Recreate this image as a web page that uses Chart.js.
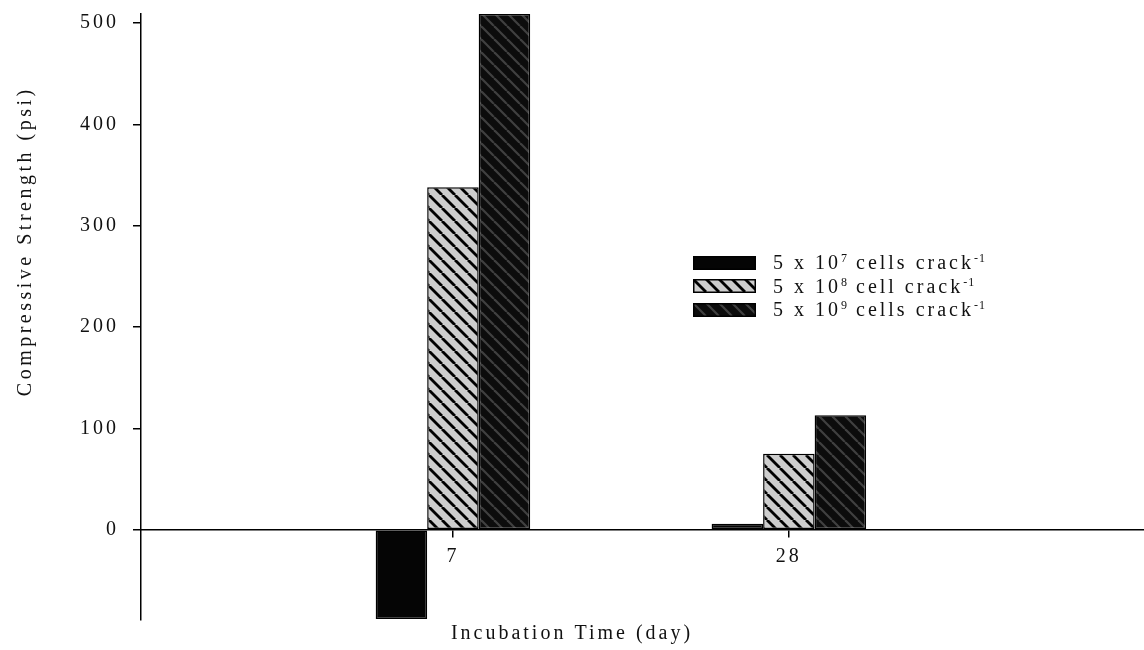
<!DOCTYPE html>
<html>
<head>
<meta charset="utf-8">
<script src="https://cdn.jsdelivr.net/npm/chart.js@4"></script>
<style>
  html, body { margin: 0; padding: 0; background: #fff; }
  #wrap { position: relative; width: 1144px; height: 650px; }
  #legend {
    position: absolute; left: 693px; top: 251px;
    font-family: "Liberation Serif", serif; font-size: 20px;
    letter-spacing: 3px; color: #111;
  }
  .row { display: flex; align-items: center; height: 23.5px; white-space: nowrap; }
  .row canvas { width: 63px; height: 14px; margin-right: 17px; }
  sup { font-size: 12px; vertical-align: 7px; letter-spacing: 1px; }
</style>
</head>
<body>
<div id="wrap">
  <canvas id="chart" width="1144" height="650"></canvas>
  <div id="legend"></div>
</div>
<script>
const days = [7, 28];
const seriesNames = [
  '5 x 10^7 cells crack^-1',
  '5 x 10^8 cell crack^-1',
  '5 x 10^9 cells crack^-1',
];
const low = [-88, 6];
const mid = [338, 75];
const high = [509, 113];
const yTicks = [0, 100, 200, 300, 400, 500];
const xTitle = 'Incubation Time (day)';
const yTitle = 'Compressive Strength (psi)';

const FONT = '"Liberation Serif", "Times New Roman", serif';
const INK = '#111';

// fills: solid black, light hatch, dark hatch
function makeFill(kind) {
  const s = 13;
  const c = document.createElement('canvas');
  c.width = c.height = s;
  const g = c.getContext('2d');
  if (kind === 'solid') {
    g.fillStyle = '#050505';
    g.fillRect(0, 0, s, s);
  } else {
    g.fillStyle = kind === 'hatch' ? '#cdcdcd' : '#0c0c0c';
    g.fillRect(0, 0, s, s);
    g.strokeStyle = kind === 'hatch' ? '#000' : '#404040';
    g.lineWidth = kind === 'hatch' ? 2.8 : 2.2;
    for (const k of [-s, 0, s]) {
      g.beginPath();
      g.moveTo(k, 0);
      g.lineTo(k + s, s);
      g.stroke();
    }
  }
  return g.createPattern(c, 'repeat');
}
const fills = [makeFill('solid'), makeFill('hatch'), makeFill('dark')];

const series = [low, mid, high];
const datasets = series.map((vals, i) => ({
  label: seriesNames[i],
  data: vals.map((v, j) => ({ x: days[j], y: v })),
  backgroundColor: fills[i],
  borderColor: '#000',
  borderWidth: 1.5,
  borderSkipped: false,
}));

// html legend
const legend = document.getElementById('legend');
seriesNames.forEach((name, i) => {
  const row = document.createElement('div');
  row.className = 'row';
  const sw = document.createElement('canvas');
  sw.width = 63; sw.height = 14;
  const g = sw.getContext('2d');
  g.fillStyle = fills[i];
  g.fillRect(0, 0, 63, 14);
  g.strokeStyle = '#000';
  g.lineWidth = 1.5;
  g.strokeRect(0.75, 0.75, 61.5, 12.5);
  const txt = document.createElement('span');
  txt.innerHTML = name.replace(/\^(-?\d+)/g, '<sup>$1</sup>');
  row.appendChild(sw);
  row.appendChild(txt);
  legend.appendChild(row);
});

const spacing = {
  id: 'spacing',
  beforeLayout(chart) { chart.ctx.letterSpacing = '3px'; },
  beforeDraw(chart) { chart.ctx.letterSpacing = '3px'; },
};

const yTitlePlugin = {
  id: 'yTitle',
  afterDraw(chart) {
    const { ctx, chartArea } = chart;
    ctx.save();
    ctx.letterSpacing = '3.5px';
    ctx.font = '20px ' + FONT;
    ctx.fillStyle = INK;
    ctx.textAlign = 'center';
    ctx.textBaseline = 'middle';
    ctx.translate(26, chartArea.top + chartArea.height * 0.375);
    ctx.rotate(-Math.PI / 2);
    ctx.fillText(yTitle, 0, 0);
    ctx.restore();
  },
};

new Chart(document.getElementById('chart').getContext('2d'), {
  type: 'bar',
  data: { datasets },
  options: {
    responsive: false,
    animation: false,
    events: [],
    layout: { padding: { top: 14, right: 0, left: 0, bottom: 0 } },
    categoryPercentage: 0.46,
    barPercentage: 1,
    scales: {
      x: {
        type: 'linear',
        offset: false,
        position: { y: 0 },
        min: -12.5,
        max: 50.2,
        afterBuildTicks: s => { s.ticks = days.map(v => ({ value: v })); },
        grid: { offset: false, drawOnChartArea: false, drawTicks: true, tickLength: 7, color: '#000', lineWidth: 1.5 },
        border: { color: '#000', width: 1.5 },
        ticks: { color: INK, padding: 8, font: { family: FONT, size: 20 } },
      },
      y: {
        min: -89,
        max: 509,
        afterBuildTicks: s => { s.ticks = yTicks.map(v => ({ value: v })); },
        afterFit: s => { s.width = 141; s.paddingTop = 0; s.paddingBottom = 0; },
        grid: { drawOnChartArea: false, drawTicks: true, tickLength: 8, color: '#000', lineWidth: 1.5 },
        border: { color: '#000', width: 1.5 },
        ticks: { color: INK, padding: 14, font: { family: FONT, size: 20 } },
      },
    },
    plugins: {
      legend: { display: false },
      tooltip: { enabled: false },
      title: {
        display: true,
        position: 'bottom',
        text: xTitle,
        color: INK,
        font: { family: FONT, size: 20, weight: 'normal' },
        padding: { top: 2, bottom: 4 },
      },
    },
  },
  plugins: [spacing, yTitlePlugin],
});
</script>
</body>
</html>
